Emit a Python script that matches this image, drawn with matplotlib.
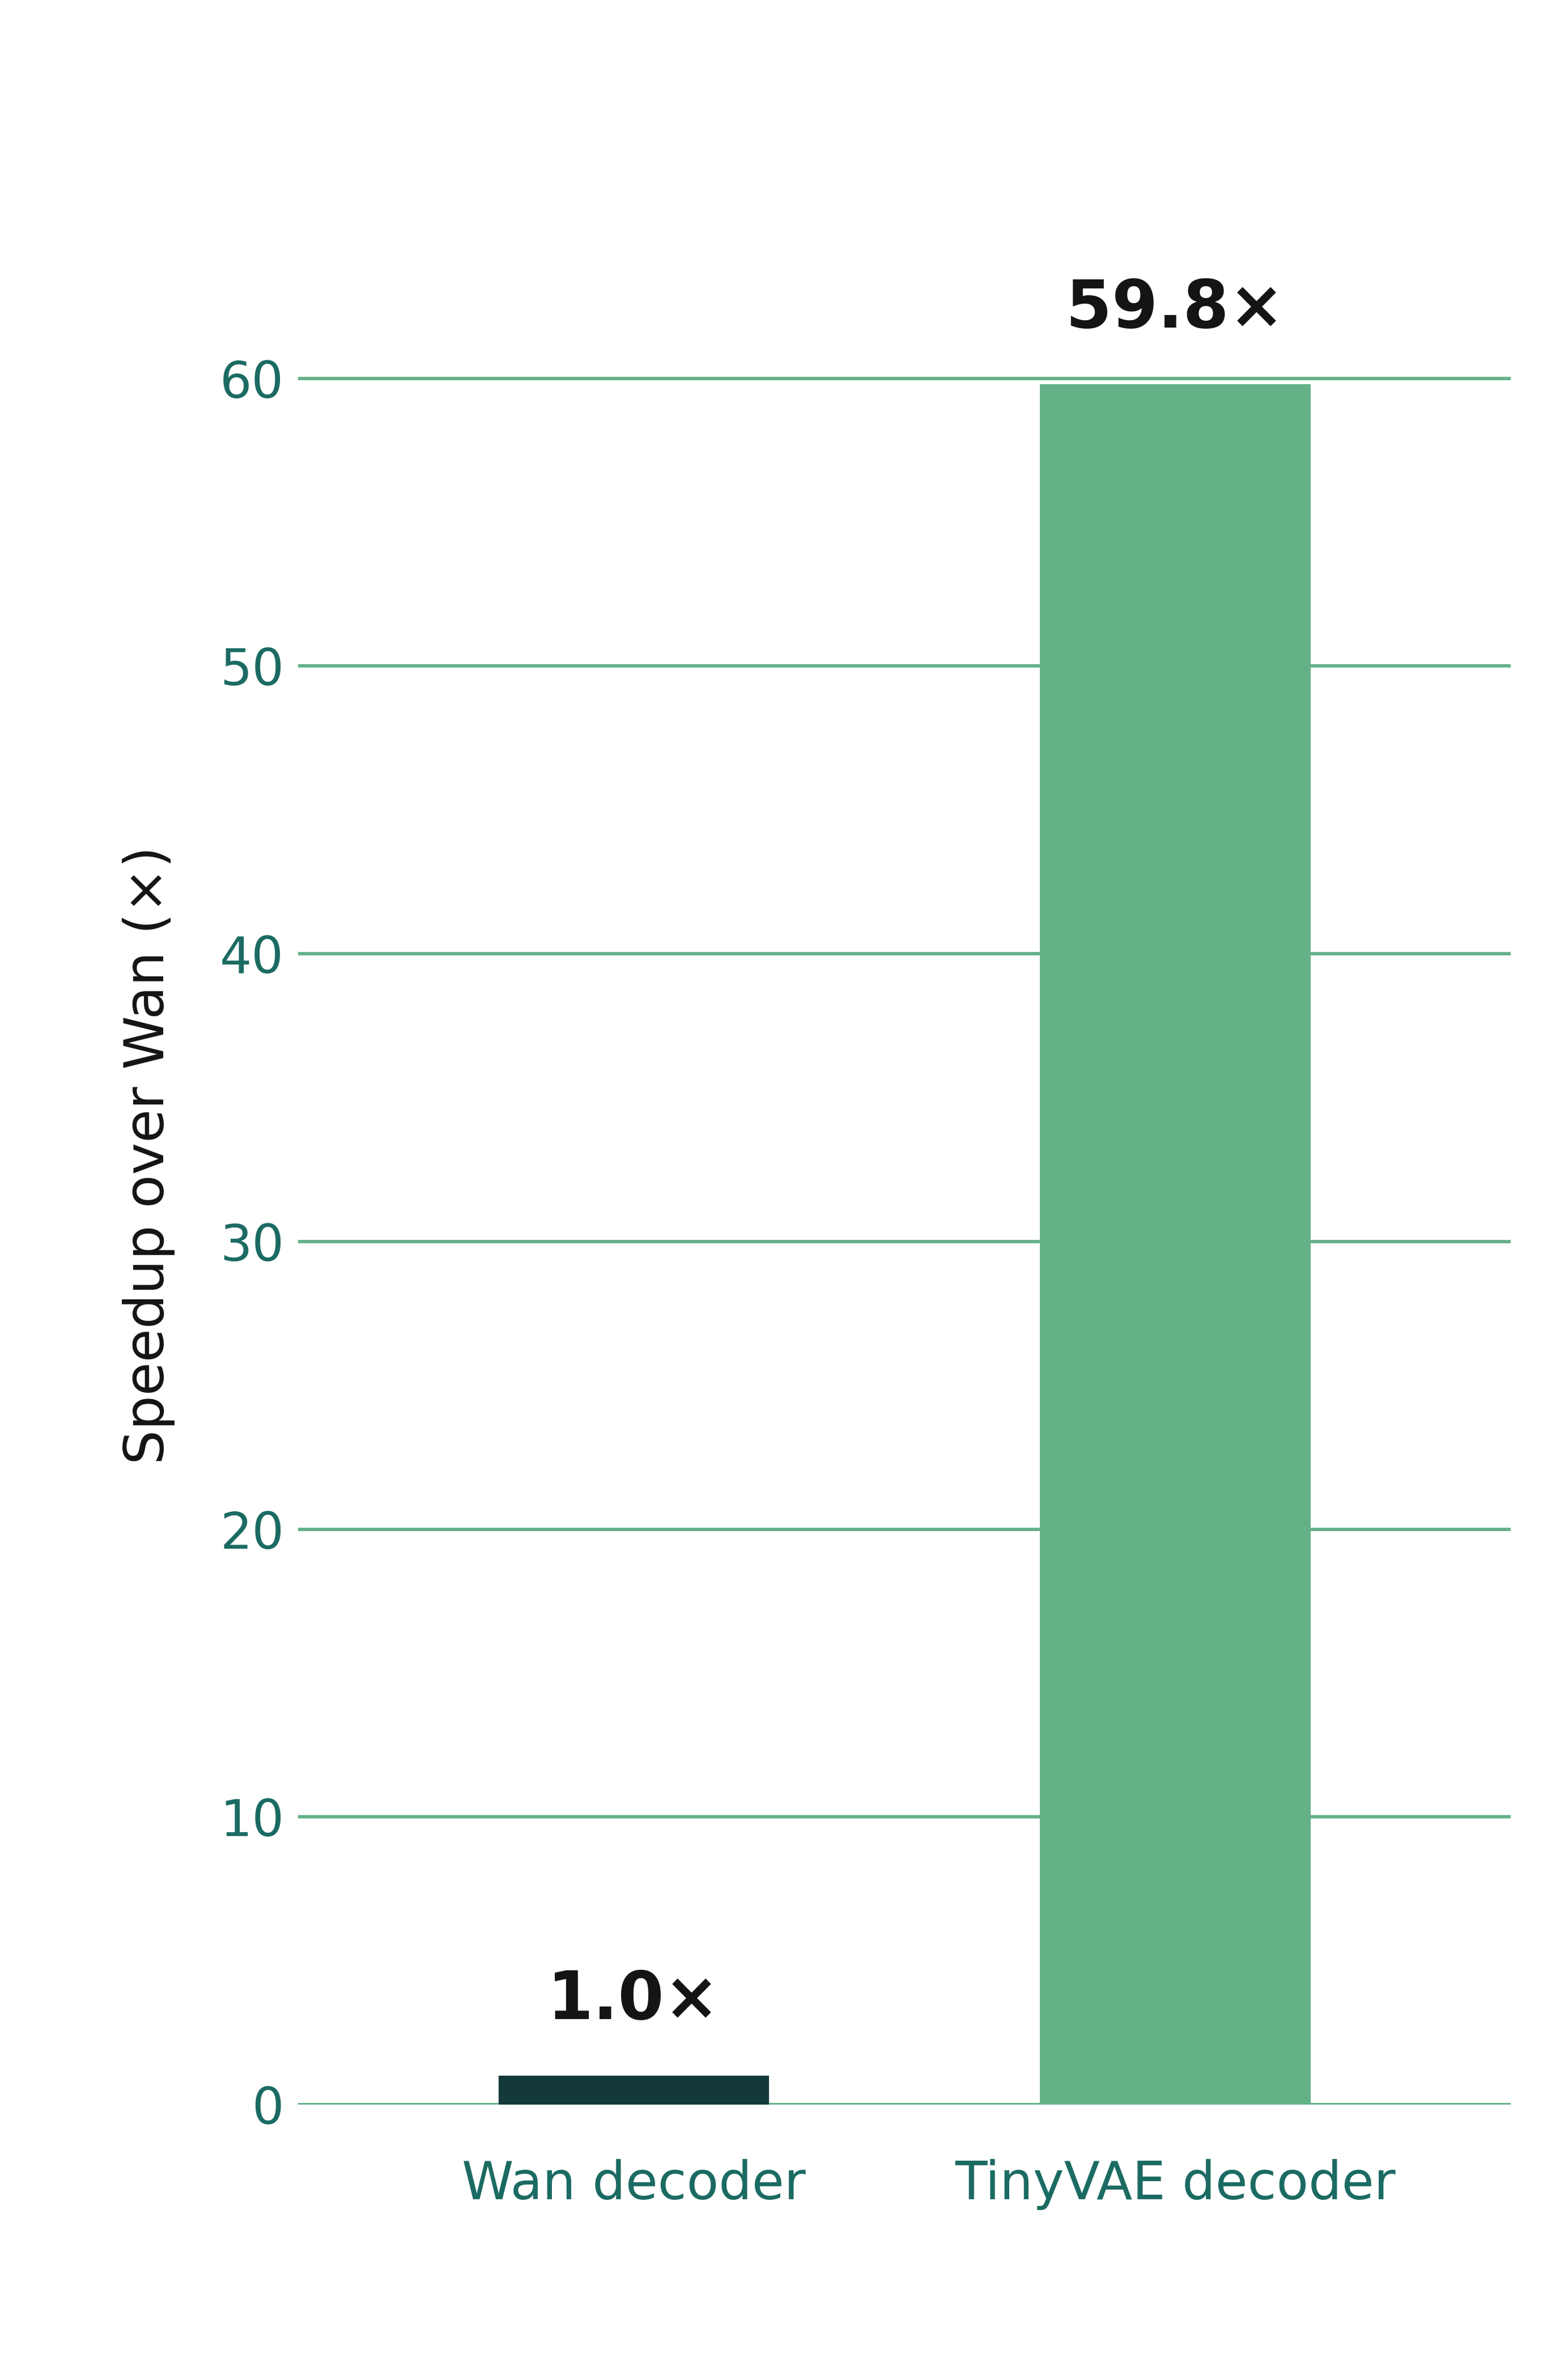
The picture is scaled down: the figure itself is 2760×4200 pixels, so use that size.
import matplotlib
matplotlib.use("Agg")
import matplotlib.pyplot as plt

categories = ["Wan decoder", "TinyVAE decoder"]
speedups = [1.0, 59.8]
value_labels = ["1.0×", "59.8×"]
yticks = [0, 10, 20, 30, 40, 50, 60]

bar_colors = ["#14393b", "#64b188"]
grid_color = "#64b188"
tick_color = "#1b6b63"
text_color = "#141414"

plt.rcParams['font.family'] = ['DejaVu Sans']

fig = plt.figure(figsize=(9.2, 14), dpi=300)
ax = fig.add_axes([0.1906, 0.1157, 0.7754, 0.7979])

x = list(range(len(categories)))
ax.bar(x, speedups, width=0.5, color=bar_colors, zorder=3)

for xi, v, lab in zip(x, speedups, value_labels):
    ax.annotate(lab, (xi, v), xytext=(0, 24), textcoords='offset points',
                ha='center', va='baseline', fontsize=28, fontweight='bold',
                color=text_color, zorder=4)

ax.set_xlim(-0.62, 1.62)
ax.set_ylim(0, 66)
ax.set_yticks(yticks)
ax.set_xticks(x)
ax.set_xticklabels(categories)

for s in ax.spines.values():
    s.set_visible(False)

ax.yaxis.grid(True, color=grid_color, linewidth=1.4, zorder=0)
ax.set_axisbelow(True)
ax.tick_params(axis='y', length=0, pad=6, labelsize=21.3, labelcolor=tick_color)
ax.tick_params(axis='x', length=0, pad=23, labelsize=22.2, labelcolor=tick_color)

ax.set_ylabel("Speedup over Wan (×)", fontsize=23, color=text_color, labelpad=19)

fig.savefig("out.png", dpi=300, facecolor="white")
